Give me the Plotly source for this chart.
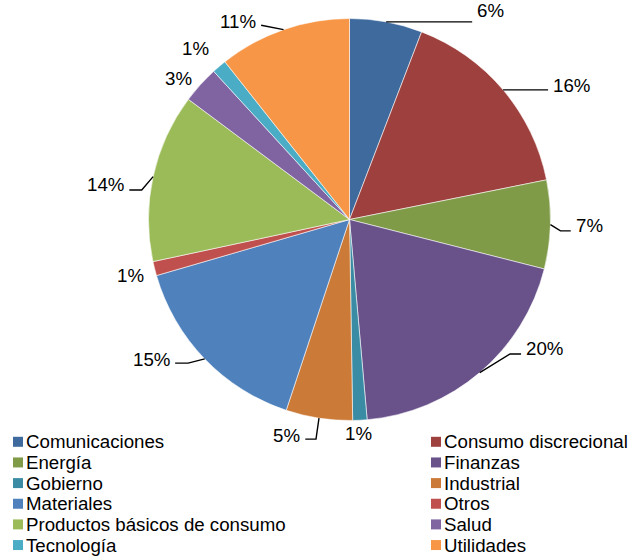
import math
import plotly.graph_objects as go

# Sector weights (%) of the portfolio
categories = [
    "Comunicaciones", "Consumo discrecional", "Energía", "Finanzas", "Gobierno",
    "Industrial", "Materiales", "Otros", "Productos básicos de consumo", "Salud",
    "Tecnología", "Utilidades",
]
weights = [5.84, 16.0, 7.12, 19.64, 1.15, 5.35, 15.4, 1.14, 13.56, 2.99, 1.17, 10.64]
colors = [
    "#3E6A9D", "#9E413E", "#7F9B48", "#69528A", "#3A8CA4", "#CC7A37",
    "#4F81BD", "#C0504D", "#9BBB59", "#8064A2", "#4BACC6", "#F79646",
]

# Figure geometry (pixels)
W, H = 630, 557
CX, CY, R = 349.5, 219.5, 201.0
FONT = "Liberation Sans, Arial, sans-serif"
LABEL_SIZE = 18.7
LEGEND_SIZE = 18.7

# Data-label placement relative to the slice's outer edge point:
# leader labels: elbow offset, horizontal run, vertical text shift;
# plain labels: text centre offset.
label_layout = [
    dict(elbow=(0, 0), run=86, dy=-11.5),
    dict(elbow=(0, 0), run=45, dy=-4),
    dict(elbow=(10, 6.3), run=10.3, dy=-5.7),
    dict(elbow=(30.3, -18.6), run=11, dy=-5.3),
    dict(offset=(-1, 13.3)),
    dict(elbow=(-3, 21), run=-10.7, dy=-4),
    dict(elbow=(-16.6, 4.2), run=-13, dy=-4),
    dict(offset=(-23.8, 7)),
    dict(elbow=(-11.4, 13.3), run=-12.4, dy=-5.5),
    dict(offset=(-22.1, -5.8)),
    dict(offset=(-23.9, -18)),
    dict(elbow=(-22.4, -4.4), run=0, dy=-3.3),
]


def px(x):
    return x / W


def py(y):
    return 1 - y / H


fig = go.Figure(
    go.Pie(
        labels=categories,
        values=weights,
        sort=False,
        direction="clockwise",
        rotation=0,
        textinfo="none",
        marker=dict(colors=colors, line=dict(color="rgba(255,255,255,0.8)", width=0.7)),
        domain=dict(x=[px(CX - R), px(CX + R)], y=[py(CY + R), py(CY - R)]),
        showlegend=False,
        hoverinfo="label+percent",
    )
)

annotations = []
shapes = []

# Percentage labels with leader lines
total = sum(weights)
cum = 0.0
for v, lay in zip(weights, label_layout):
    mid = (cum + v / 2) / total * 2 * math.pi
    cum += v
    ex = CX + R * math.sin(mid)
    ey = CY - R * math.cos(mid)
    text = f"{v / total * 100:.0f}%"
    if "offset" in lay:
        tx, ty = ex + lay["offset"][0], ey + lay["offset"][1]
        annotations.append(dict(
            x=px(tx), y=py(ty), xref="paper", yref="paper", text=text,
            showarrow=False, xanchor="center", yanchor="middle",
            font=dict(family=FONT, size=LABEL_SIZE, color="#000000"),
        ))
        continue
    bx, by = ex + lay["elbow"][0], ey + lay["elbow"][1]
    endx = bx + lay["run"]
    side = lay["run"] if lay["run"] != 0 else lay["elbow"][0]
    right = side > 0
    shapes.append(dict(
        type="path", xref="paper", yref="paper",
        path=f"M{px(ex)},{py(ey)} L{px(bx)},{py(by)} L{px(endx)},{py(by)}",
        line=dict(color="#000000", width=1.4),
    ))
    annotations.append(dict(
        x=px(endx + (3 if right else -3)), y=py(by + lay["dy"]),
        xref="paper", yref="paper", text=text, showarrow=False,
        xanchor="left" if right else "right", yanchor="middle",
        font=dict(family=FONT, size=LABEL_SIZE, color="#000000"),
    ))

# Two-column legend below the pie
col_x = [13, 431]
row0, row_step, box = 441.8, 20.65, 10
for i, (name, c) in enumerate(zip(categories, colors)):
    row, col = divmod(i, 2)
    yc = row0 + row * row_step
    x0 = col_x[col]
    shapes.append(dict(
        type="rect", xref="paper", yref="paper",
        x0=px(x0), x1=px(x0 + box), y0=py(yc + box / 2), y1=py(yc - box / 2),
        fillcolor=c, line=dict(width=0),
    ))
    annotations.append(dict(
        x=px(x0 + box + 2), y=py(yc), xref="paper", yref="paper", text=name,
        showarrow=False, xanchor="left", yanchor="middle", borderpad=0,
        font=dict(family=FONT, size=LEGEND_SIZE, color="#000000"),
    ))

fig.update_layout(
    width=W, height=H,
    margin=dict(l=0, r=0, t=0, b=0),
    paper_bgcolor="white", plot_bgcolor="white",
    showlegend=False,
    annotations=annotations,
    shapes=shapes,
)

fig.write_html("out.html")
